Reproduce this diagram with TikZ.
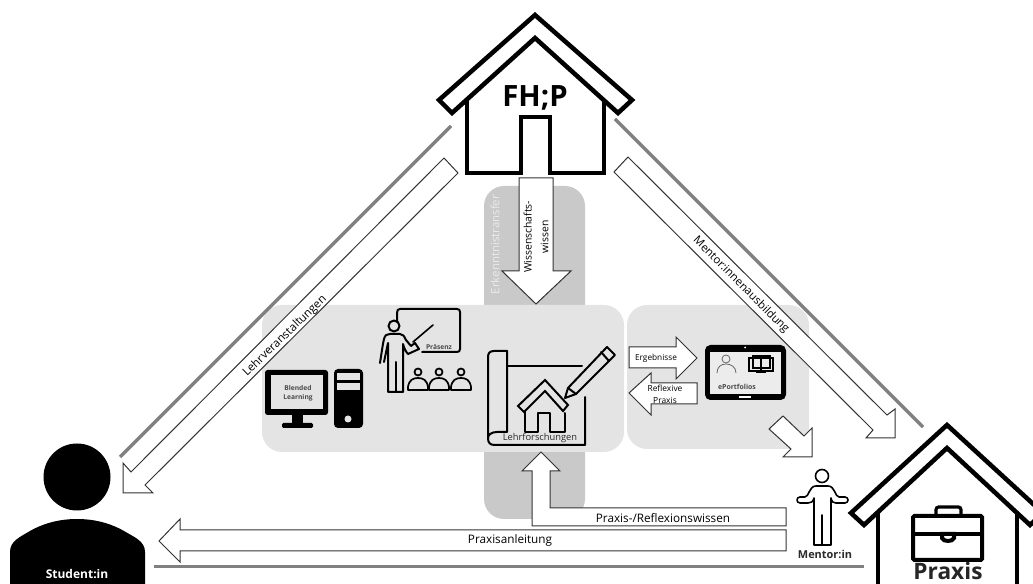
\documentclass[tikz,border=0pt]{standalone}
\usepackage{fontspec}
\setmainfont{Open Sans}
\definecolor{panelgrey}{HTML}{E4E4E5}
\definecolor{bandgrey}{HTML}{C9C9CA}
\definecolor{linegrey}{HTML}{808080}
\definecolor{textgrey}{HTML}{2A2A2A}
\tikzset{
  blockarrow/.style={draw=black!80, fill=white, line width=0.75pt, line join=miter},
  houseline/.style={draw=black, line width=3.4pt, line join=miter},
  iconline/.style={draw=black, line width=1.5pt, line join=round, line cap=round},
  greyline/.style={draw=linegrey, line width=2.4pt},
  arrowtext/.style={inner sep=0pt, text=black, align=center, font=\fontsize{8.8pt}{10pt}\selectfont},
  icontext/.style={inner sep=0pt, text=textgrey!85, align=center, font=\fontsize{5pt}{7pt}\selectfont\bfseries},
}
\begin{document}
\begin{tikzpicture}[x=0.75pt,y=-0.75pt]
  \useasboundingbox (0,0) rectangle (1033,584);
  \clip (0,0) rectangle (1033,584);
  % grey areas
  \fill[bandgrey, rounded corners=15pt] (484,186) rectangle (585,519);
  \fill[panelgrey, rounded corners=15pt] (262,305) rectangle (624,452);
  \fill[panelgrey, rounded corners=15pt] (627,305) rectangle (809,449);
  \node[rotate=90, inner sep=0pt, text=white!92!black, font=\fontsize{8.6pt}{11pt}\selectfont] (transfer) at (495,244.5) {Erkenntnistransfer};
  % grey lines
  \draw[greyline] (120,457) -- (451,126);
  \draw[greyline] (615,119) -- (923,427);
  \draw[greyline] (154,566.5) -- (864,566.5);
  % house FH;P
  \begin{scope}
    \draw[houseline] (467,97) -- (467,173) -- (521,173) -- (521,117) -- (550,117) -- (550,173) -- (604,173) -- (604,97);
    \draw[houseline, fill=white] (535,15) -- (632,100) -- (618,113) -- (535,38) -- (452,113) -- (439,100) -- cycle;
    \node[inner sep=0pt, font=\fontsize{22pt}{24pt}\selectfont\bfseries] (fhp) at (535,98) {FH;P};
  \end{scope}
  % block arrows
  \draw[blockarrow] (519,178) -- (553,178) -- (553,271) -- (571,271) -- (536,304) -- (502,271) -- (519,271) -- cycle;
  \node[arrowtext, rotate=90, font=\fontsize{7.8pt}{12.5pt}\selectfont] (wissen) at (536,237) {Wissenschafts-\\wissen};
  \draw[blockarrow] (444,158) -- (131,472) -- (123,463) -- (123,493) -- (153,493) -- (145,485) -- (458,173) -- cycle;
  \node[arrowtext, rotate=44, font=\fontsize{8.6pt}{11pt}\selectfont] (lehrveranst) at (285,336) {Lehrveranstaltungen};
  \draw[blockarrow] (628,157) -- (887,415) -- (895,409) -- (895,438) -- (866,438) -- (873,430) -- (614,172) -- cycle;
  \node[arrowtext, rotate=-45, font=\fontsize{8.5pt}{11pt}\selectfont] (mentoraus) at (741,285) {Mentor:innenausbildung};
  \draw[blockarrow] (629,347) -- (676,347) -- (676,337) -- (697,358) -- (676,379) -- (676,368) -- (629,368) -- cycle;
  \node[arrowtext, font=\fontsize{6.2pt}{8pt}\selectfont] (ergebnisse) at (656,358) {Ergebnisse};
  \draw[blockarrow] (697,383) -- (651,383) -- (651,373) -- (629,393) -- (651,415) -- (651,404) -- (697,404) -- cycle;
  \node[arrowtext, font=\fontsize{6.3pt}{9pt}\selectfont] (reflexive) at (665,394) {Reflexive\\Praxis};
  \draw[blockarrow] (769,429) -- (783,416) -- (804,436) -- (812,428) -- (812,457) -- (783,457) -- (791,449) -- cycle;
  \draw[blockarrow] (786,508) -- (550,508) -- (550,471) -- (560,471) -- (541,452) -- (522,471) -- (532,471) -- (532,526) -- (786,526) -- cycle;
  \node[arrowtext] (reflexionswissen) at (663,518) {Praxis-/Reflexionswissen};
  \draw[blockarrow] (786,530) -- (180,530) -- (180,519) -- (159,541) -- (180,562) -- (180,551) -- (786,551) -- cycle;
  \node[arrowtext] (anleitung) at (510,540) {Praxisanleitung};
  % blended learning
  \fill[rounded corners=2pt] (265,370) rectangle (328,415);
  \fill[panelgrey] (271,375) rectangle (323,409);
  \fill (292,414) rectangle (303,424);
  \fill[rounded corners=1pt] (282,423) rectangle (313,428);
  \fill[rounded corners=3pt] (334,369) rectangle (363,428);
  \fill[panelgrey] (337,373) rectangle (360,380);
  \fill[panelgrey] (337,383) rectangle (360,390);
  \fill[panelgrey] (348,419) circle (3.5);
  \node[icontext] (blended) at (298,393) {Blended\\Learning};
  % presenter
  \draw[iconline] (397,322) -- (397,313) .. controls (397,310) and (398,309) .. (400,309) -- (457,309) .. controls (459,309) and (460,310) .. (460,312) -- (460,349) .. controls (460,351) and (459,352) .. (457,352) -- (422,352);
  \draw[iconline] (394,326) circle (5.5);
  \draw[iconline] (380,363) .. controls (382,350) and (383,343) .. (384,339) .. controls (385,335) and (387,334) .. (390,334) -- (400,334) .. controls (403,334) and (404,336) .. (406,340) -- (411,346) -- (415,343) -- (419,349) -- (408,354) .. controls (406,352) and (404,348) .. (403,344) -- (403,392) -- (388,392) -- (388,343) -- (384,362);
  \draw[iconline] (396,362) -- (396,392);
  \draw[iconline, line width=1.2pt] (413,342) -- (433,325);
  \foreach \px in {418,439,461} {
    \draw[iconline, line width=1.3pt] (\px,372) circle (3.5);
    \draw[iconline, line width=1.3pt] (\px-10,387) .. controls (\px-9,380) and (\px-5,378) .. (\px,378) .. controls (\px+5,378) and (\px+9,380) .. (\px+10,387) -- (\px+10,390) -- (\px-10,390) -- cycle;
  }
  \node[icontext] (praesenz) at (439,347) {Präsenz};
  % blueprint
  \draw[iconline] (507,366) -- (582,366);
  \draw[iconline] (507,351) -- (494,351) .. controls (490,351) and (488,353) .. (488,357) -- (488,438) .. controls (488,443) and (490,445) .. (495,445) -- (585,445) -- (585,397);
  \draw[iconline] (507,351) -- (507,432) -- (497,432) .. controls (491,432) and (488,435) .. (488,438);
  \draw[iconline] (525,411) -- (525,432) -- (538,432) -- (538,413) -- (550,413) -- (550,432) -- (565,432) -- (565,413);
  \draw[iconline, line join=miter] (545,380) -- (568,405) -- (563,411) -- (545,391) -- (524,412) -- (518,406) -- cycle;
  \draw[iconline, fill=panelgrey] (565,398) -- (568,388) -- (607,347) -- (615,355) -- (576,394) -- cycle;
  \draw[iconline] (601,352) -- (609,361);
  \draw[iconline] (568,388) -- (576,394);
  \node[arrowtext, text=textgrey, font=\fontsize{7pt}{9pt}\selectfont] (lehrforschungen) at (540,438.5) {Lehrforschungen};
  % tablet
  \fill[rounded corners=4pt] (705,345) rectangle (786,400);
  \fill[panelgrey!70!white] (710,352) rectangle (781,394);
  \fill[white] (745,347.5) circle (1);
  \fill[white] (739,396.5) rectangle (751,398);
  \draw[black!60, line width=0.6pt] (726,359) circle (4);
  \draw[black!60, line width=0.6pt] (717,373) .. controls (717,367) and (721,364) .. (726,364) .. controls (731,364) and (736,367) .. (736,373);
  \draw[black, line width=1.2pt] (749,358) rectangle (773,371);
  \draw[black, line width=1.1pt] (753,356) rectangle (770,368);
  \draw[black, line width=1.1pt] (761,356) -- (761,371);
  \fill (756,372) rectangle (766,373.5);
  \node[icontext, font=\fontsize{5.2pt}{7pt}\selectfont\bfseries] (eportfolios) at (737,387) {ePortfolios};
  % student
  \fill (77,477) circle (33.5);
  \fill (10,584) -- (10,552) .. controls (10,541) and (20,537) .. (30,531) .. controls (44,523) and (60,519) .. (77,519) .. controls (94,519) and (110,523) .. (124,531) .. controls (134,537) and (145,541) .. (145,552) -- (145,584) -- cycle;
  \node[inner sep=0pt, text=white, font=\fontsize{9pt}{10pt}\selectfont\bfseries] (student) at (77,574) {Student:in};
  % mentor
  \draw[iconline, line width=1.2pt] (822,476) circle (6.5);
  \draw[iconline, line width=1.2pt] (814,498) .. controls (813,502) and (811,503) .. (808,503) -- (800,503) .. controls (796,503) and (796,497) .. (800,497) -- (805,497) .. controls (809,497) and (809,486) .. (816,486) -- (828,486) .. controls (835,486) and (835,497) .. (839,497) -- (845,497) .. controls (849,497) and (849,503) .. (845,503) -- (836,503) .. controls (833,503) and (832,502) .. (831,498) -- (831,545) -- (814,545) -- cycle;
  \draw[iconline, line width=1.2pt] (822,515) -- (822,545);
  \node[inner sep=0pt, text=textgrey, font=\fontsize{8.2pt}{10pt}\selectfont\bfseries] (mentorin) at (825,554) {Mentor:in};
  % house Praxis
  \begin{scope}
    \draw[houseline] (878,510) -- (878,590);
    \draw[houseline] (1017,510) -- (1017,590);
    \draw[houseline, fill=white] (947,425) -- (1043,513) -- (1030,525) -- (947,448) -- (864,525) -- (851,513) -- cycle;
    \draw[houseline, line width=3pt, rounded corners=1pt] (913,516) rectangle (982,560);
    \draw[houseline, line width=3pt] (913,534) -- (942,534);
    \draw[houseline, line width=3pt] (954,534) -- (982,534);
    \draw[houseline, line width=3pt] (942,534) -- (942,538) .. controls (943,542) and (953,542) .. (954,538) -- (954,534) -- cycle;
    \draw[houseline, line width=2.4pt, rounded corners=2pt] (936,516) -- (936,507) -- (961,507) -- (961,516);
    \node[anchor=base, inner sep=0pt, text depth=0pt, text=black!85, font=\fontsize{17pt}{20pt}\selectfont\bfseries] (praxis) at (948,580) {Praxis};
  \end{scope}
\end{tikzpicture}
\end{document}
